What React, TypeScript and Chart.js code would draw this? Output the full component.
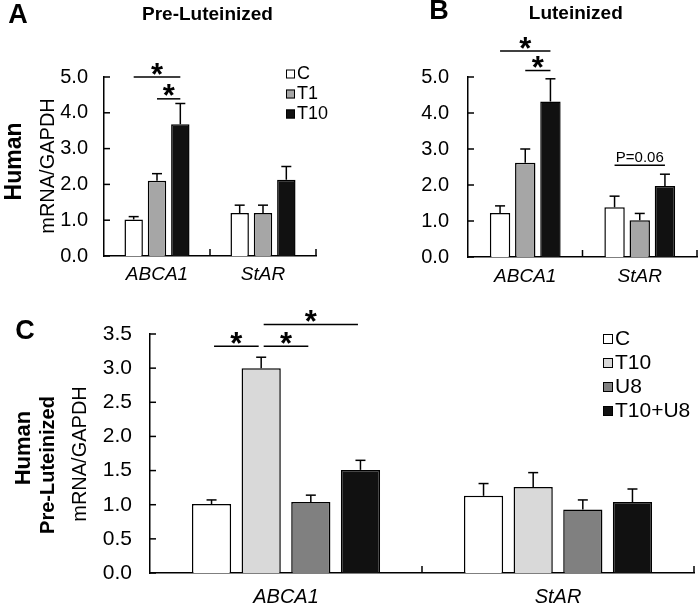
import React, { useEffect, useRef } from "react";
import { Chart, registerables } from "chart.js";

Chart.register(...registerables);

const FONT = "'Liberation Sans', Arial, Helvetica, sans-serif";

// ---------- data ----------
const genes = ["ABCA1", "StAR"];

// Panel A – Pre-Luteinized
const preC = [1.02, 1.2];
const preT1 = [2.1, 1.2];
const preT10 = [3.68, 2.13];
const preCErr = [0.08, 0.22];
const preT1Err = [0.2, 0.22];
const preT10Err = [0.58, 0.37];

// Panel B – Luteinized
const lutC = [1.22, 1.38];
const lutT1 = [2.62, 1.02];
const lutT10 = [4.32, 1.97];
const lutCErr = [0.2, 0.31];
const lutT1Err = [0.38, 0.19];
const lutT10Err = [0.63, 0.33];

// Panel C – Pre-Luteinized, U8 inhibitor
const cC = [1.01, 1.13];
const cT10 = [3.0, 1.26];
const cU8 = [1.04, 0.93];
const cT10U8 = [1.51, 1.04];
const cCErr = [0.06, 0.18];
const cT10Err = [0.16, 0.21];
const cU8Err = [0.1, 0.14];
const cT10U8Err = [0.14, 0.19];

// significance brackets: category, from-series, to-series, level, label
const sigA = [
  { cat: 0, from: 0, to: 2, y: 5.0, text: "*" },
  { cat: 0, from: 1, to: 2, y: 4.39, text: "*" },
];
const sigB = [
  { cat: 0, from: 0, to: 2, y: 5.72, text: "*" },
  { cat: 0, from: 1, to: 2, y: 5.18, text: "*" },
  { cat: 1, from: 0, to: 2, y: 2.55, text: "P=0.06" },
];
const sigC = [
  { cat: 0, from: 0, to: 1, y: 3.32, text: "*" },
  { cat: 0, from: 1, to: 2, y: 3.32, text: "*" },
  { cat: 0, from: 1, to: 3, y: 3.64, text: "*" },
];

type Series = { label: string; data: number[]; err: number[]; color: string };
type TextItem = { text: string; x: number; y: number; font: string; rot?: boolean };
type Panel = {
  left: number; top: number; width: number; height: number;
  series: Series[];
  yMax: number; yStep: number;
  yWidth: number; xHeight: number; padTop: number; padRight: number;
  yFont: number; xFont: number; yPad: number; xPad: number;
  cp: number; bp: number; cap: number;
  sig: { cat: number; from: number; to: number; y: number; text: string }[];
  sigInset: number;
  legend: { x: number; y: number; step: number; box: number; font: number } | null;
  texts: TextItem[];
};

const panels: Panel[] = [
  {
    left: 0, top: 0, width: 349, height: 290,
    series: [
      { label: "C", data: preC, err: preCErr, color: "#ffffff" },
      { label: "T1", data: preT1, err: preT1Err, color: "#a6a6a6" },
      { label: "T10", data: preT10, err: preT10Err, color: "#111111" },
    ],
    yMax: 5, yStep: 1,
    yWidth: 104, xHeight: 34, padTop: 77, padRight: 33,
    yFont: 20, xFont: 19, yPad: 16, xPad: 7,
    cp: 0.66, bp: 0.79, cap: 10,
    sig: sigA, sigInset: 0,
    legend: { x: 286, y: 74, step: 20, box: 9, font: 18 },
    texts: [
      { text: "A", x: 18, y: 16, font: `bold 27px ${FONT}` },
      { text: "Pre-Luteinized", x: 207.5, y: 14.5, font: `bold 19px ${FONT}` },
      { text: "Human", x: 15, y: 161.5, font: `bold 23px ${FONT}`, rot: true },
      { text: "mRNA/GAPDH", x: 48, y: 166, font: `20px ${FONT}`, rot: true },
    ],
  },
  {
    left: 349, top: 0, width: 349, height: 290,
    series: [
      { label: "C", data: lutC, err: lutCErr, color: "#ffffff" },
      { label: "T1", data: lutT1, err: lutT1Err, color: "#a6a6a6" },
      { label: "T10", data: lutT10, err: lutT10Err, color: "#111111" },
    ],
    yMax: 5, yStep: 1,
    yWidth: 119, xHeight: 33, padTop: 77, padRight: 1,
    yFont: 20, xFont: 19, yPad: 19, xPad: 8,
    cp: 0.66, bp: 0.81, cap: 10,
    sig: sigB, sigInset: 0,
    legend: null,
    texts: [
      { text: "B", x: 90, y: 12, font: `bold 27px ${FONT}` },
      { text: "Luteinized", x: 226.8, y: 14, font: `bold 19px ${FONT}` },
    ],
  },
  {
    left: 0, top: 290, width: 698, height: 315,
    series: [
      { label: "C", data: cC, err: cCErr, color: "#ffffff" },
      { label: "T10", data: cT10, err: cT10Err, color: "#d9d9d9" },
      { label: "U8", data: cU8, err: cU8Err, color: "#808080" },
      { label: "T10+U8", data: cT10U8, err: cT10U8Err, color: "#111111" },
    ],
    yMax: 3.5, yStep: 0.5,
    yWidth: 150, xHeight: 32, padTop: 44, padRight: 4,
    yFont: 21, xFont: 20, yPad: 18, xPad: 12,
    cp: 0.73, bp: 0.79, cap: 10,
    sig: sigC, sigInset: 2.5,
    legend: { x: 603, y: 49, step: 24, box: 10, font: 21 },
    texts: [
      { text: "C", x: 25, y: 42, font: `bold 27px ${FONT}` },
      { text: "Human", x: 23.5, y: 158, font: `bold 22px ${FONT}`, rot: true },
      { text: "Pre-Luteinized", x: 48, y: 175, font: `bold 20px ${FONT}`, rot: true },
      { text: "mRNA/GAPDH", x: 80, y: 164, font: `20px ${FONT}`, rot: true },
    ],
  },
];

function makeDecor(p: Panel) {
  return {
    id: "decor",
    afterDraw(chart: any) {
      const ctx: CanvasRenderingContext2D = chart.ctx;
      const xs = chart.scales.x;
      const ys = chart.scales.y;
      const line = (x1: number, y1: number, x2: number, y2: number) => {
        ctx.beginPath();
        ctx.moveTo(x1, y1);
        ctx.lineTo(x2, y2);
        ctx.stroke();
      };
      ctx.save();
      ctx.strokeStyle = "#000";
      ctx.fillStyle = "#000";
      ctx.lineWidth = 1.5;

      // error bars (upper only)
      chart.data.datasets.forEach((ds: any, di: number) => {
        const meta = chart.getDatasetMeta(di);
        meta.data.forEach((bar: any, i: number) => {
          const v = ds.data[i];
          const e = ds.err[i];
          const yt = ys.getPixelForValue(v);
          const ye = ys.getPixelForValue(v + e);
          line(bar.x, yt, bar.x, ye);
          line(bar.x - p.cap / 2, ye, bar.x + p.cap / 2, ye);
        });
      });

      // inner y ticks
      ys.ticks.forEach((t: any) => {
        const py = ys.getPixelForValue(t.value);
        line(ys.right, py, ys.right + 6, py);
      });

      // category boundary ticks on x axis
      const n = chart.data.labels.length;
      const cw = (xs.right - xs.left) / n;
      for (let i = 1; i <= n; i++) {
        const bx = xs.left + i * cw;
        line(bx, xs.top, bx, xs.top - 7);
      }

      // significance brackets
      p.sig.forEach((s) => {
        const x1 = chart.getDatasetMeta(s.from).data[s.cat].x + p.sigInset;
        const x2 = chart.getDatasetMeta(s.to).data[s.cat].x - p.sigInset;
        const py = ys.getPixelForValue(s.y);
        line(x1, py, x2, py);
        const cx = (x1 + x2) / 2;
        ctx.textAlign = "center";
        if (s.text === "*") {
          ctx.font = `bold 31px ${FONT}`;
          ctx.textBaseline = "alphabetic";
          const m = ctx.measureText("*");
          const center = py - 8.5;
          const base = center - (m.actualBoundingBoxDescent - m.actualBoundingBoxAscent) / 2;
          ctx.fillText("*", cx, base);
        } else {
          ctx.font = `15px ${FONT}`;
          ctx.textBaseline = "alphabetic";
          ctx.fillText(s.text, cx, py - 3);
        }
      });

      // legend
      if (p.legend) {
        const L = p.legend;
        chart.data.datasets.forEach((ds: any, di: number) => {
          const cy = L.y + di * L.step;
          ctx.fillStyle = ds.backgroundColor;
          ctx.fillRect(L.x, cy - L.box / 2, L.box, L.box);
          ctx.lineWidth = 1;
          ctx.strokeStyle = "#000";
          ctx.strokeRect(L.x + 0.5, cy - L.box / 2 + 0.5, L.box - 1, L.box - 1);
          ctx.fillStyle = "#000";
          ctx.font = `${L.font}px ${FONT}`;
          ctx.textAlign = "left";
          ctx.textBaseline = "middle";
          ctx.fillText(ds.label, L.x + L.box + 2, cy);
        });
      }

      // titles and labels
      p.texts.forEach((t) => {
        ctx.save();
        ctx.fillStyle = "#000";
        ctx.font = t.font;
        ctx.textAlign = "center";
        ctx.textBaseline = "middle";
        ctx.translate(t.x, t.y);
        if (t.rot) ctx.rotate(-Math.PI / 2);
        ctx.fillText(t.text, 0, 0);
        ctx.restore();
      });
      ctx.restore();
    },
  };
}

function PanelChart({ p }: { p: Panel }) {
  const ref = useRef<HTMLCanvasElement>(null);
  useEffect(() => {
    const chart = new Chart(ref.current as HTMLCanvasElement, {
      type: "bar",
      data: {
        labels: genes,
        datasets: p.series.map((s) => ({
          label: s.label,
          data: s.data,
          err: s.err,
          backgroundColor: s.color,
          borderColor: "#000",
          borderWidth: 1.5,
          categoryPercentage: p.cp,
          barPercentage: p.bp,
        })) as any,
      },
      options: {
        responsive: false,
        animation: false,
        layout: { padding: { left: 0, top: p.padTop, right: p.padRight, bottom: 0 } },
        plugins: {
          legend: { display: false },
          tooltip: { enabled: false },
          title: { display: false },
        },
        scales: {
          x: {
            type: "category",
            offset: true,
            grid: { display: false, drawTicks: false },
            border: { display: true, color: "#000", width: 1.5 },
            ticks: {
              color: "#000",
              font: { family: FONT, size: p.xFont, style: "italic" },
              padding: p.xPad,
              maxRotation: 0,
              autoSkip: false,
            },
            afterFit: (s: any) => {
              s.height = p.xHeight;
            },
          },
          y: {
            min: 0,
            max: p.yMax,
            grid: { display: false, drawTicks: false },
            border: { display: true, color: "#000", width: 1.5 },
            ticks: {
              stepSize: p.yStep,
              color: "#000",
              font: { family: FONT, size: p.yFont },
              padding: p.yPad,
              callback: (v: any) => Number(v).toFixed(1),
            },
            afterFit: (s: any) => {
              s.width = p.yWidth;
            },
          },
        },
      } as any,
      plugins: [makeDecor(p)],
    });
    return () => chart.destroy();
  }, []);
  return (
    <canvas
      ref={ref}
      width={p.width}
      height={p.height}
      style={{ position: "absolute", left: p.left, top: p.top, width: p.width, height: p.height }}
    />
  );
}

export default function App() {
  return (
    <div style={{ position: "absolute", left: 0, top: 0, width: 698, height: 605, background: "#fff", overflow: "hidden" }}>
      {panels.map((p, i) => (
        <PanelChart key={i} p={p} />
      ))}
    </div>
  );
}
